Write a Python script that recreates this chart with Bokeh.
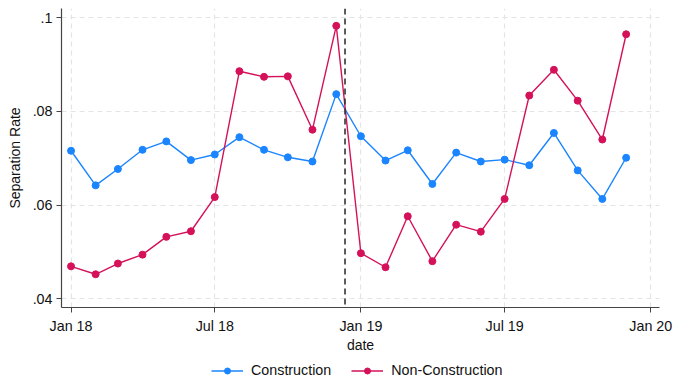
import datetime as dt
from bokeh.plotting import figure
from bokeh.layouts import column
from bokeh.models import (FixedTicker, Span, Legend, LegendItem, Range1d,
                          DatetimeTickFormatter, ColumnDataSource)
from bokeh.embed import file_html
from bokeh.resources import INLINE

months = ["2018-01", "2018-02", "2018-03", "2018-04", "2018-05", "2018-06",
          "2018-07", "2018-08", "2018-09", "2018-10", "2018-11", "2018-12",
          "2019-01", "2019-02", "2019-03", "2019-04", "2019-05", "2019-06",
          "2019-07", "2019-08", "2019-09", "2019-10", "2019-11", "2019-12"]
construction = [0.0716, 0.0642, 0.0677, 0.0718, 0.0736, 0.0696,
                0.0708, 0.0745, 0.0718, 0.0702, 0.0693, 0.0837,
                0.0747, 0.0695, 0.0717, 0.0645, 0.0712, 0.0693,
                0.0697, 0.0685, 0.0754, 0.0674, 0.0613, 0.0701]
non_construction = [0.0469, 0.0452, 0.0475, 0.0494, 0.0532, 0.0544,
                    0.0617, 0.0886, 0.0874, 0.0875, 0.0761, 0.0983,
                    0.0497, 0.0467, 0.0576, 0.0480, 0.0558, 0.0543,
                    0.0613, 0.0834, 0.0889, 0.0823, 0.0740, 0.0965]
series_names = ["Construction", "Non-Construction"]
x_tick_dates = ["2018-01-01", "2018-07-01", "2019-01-01", "2019-07-01", "2020-01-01"]
y_ticks = [0.04, 0.06, 0.08, 0.10]
y_tick_labels = [".04", ".06", ".08", ".1"]
event_date = "2018-12-12"

EPOCH = dt.datetime(1970, 1, 1)


def to_ms(s):
    d = dt.datetime.strptime(s, "%Y-%m-%d")
    return (d - EPOCH).total_seconds() * 1000.0


x = [to_ms(m + "-01") for m in months]
src = ColumnDataSource(dict(x=x, c=construction, n=non_construction))

BLUE = "#1a85ff"
RED = "#d41159"
FONT = "Liberation Sans"
FS = "14.3px"
W = 674
H_MAIN = 356
H_LEG = 22

p = figure(width=W, height=H_MAIN, x_axis_type="datetime",
           output_backend="svg", toolbar_location=None,
           x_range=Range1d(to_ms("2017-12-20"), to_ms("2020-01-12")),
           y_range=Range1d(0.0381, 0.102),
           min_border_left=61, min_border_right=15, min_border_top=8,
           min_border_bottom=49)
p.outline_line_color = None
p.background_fill_color = "white"
p.border_fill_color = "white"

p.line("x", "c", source=src, color=BLUE, line_width=1.4)
p.scatter("x", "c", source=src, color=BLUE, size=7)
p.line("x", "n", source=src, color=RED, line_width=1.4)
p.scatter("x", "n", source=src, color=RED, size=7)

vline = Span(location=to_ms(event_date), dimension="height",
             line_color="#333333", line_dash="6 4", line_width=1.6)
p.add_layout(vline)

p.xaxis.ticker = FixedTicker(ticks=[to_ms(d) for d in x_tick_dates])
p.xaxis.formatter = DatetimeTickFormatter(months="%b %y", years="%b %y",
                                          days="%b %y")
p.yaxis.ticker = FixedTicker(ticks=y_ticks)
p.yaxis.major_label_overrides = {t: l for t, l in zip(y_ticks, y_tick_labels)}
p.yaxis.major_label_orientation = "horizontal"
p.xaxis.axis_label = "date"
p.yaxis.axis_label = "Separation Rate"

for ax in (p.xaxis[0], p.yaxis[0]):
    ax.axis_line_color = "#444444"
    ax.axis_line_width = 1.2
    ax.major_tick_line_color = "#444444"
    ax.major_tick_out = 5
    ax.major_tick_in = 0
    ax.minor_tick_line_color = None
    ax.major_label_text_font = FONT
    ax.major_label_text_font_size = FS
    ax.major_label_text_color = "#111111"
    ax.axis_label_text_font = FONT
    ax.axis_label_text_font_size = "14px"
    ax.axis_label_text_font_style = "normal"
    ax.axis_label_text_color = "#111111"
p.xaxis.major_label_standoff = 5
p.yaxis.major_label_standoff = 4
p.xaxis.axis_label_standoff = 0
p.yaxis.axis_label_standoff = 7

for g in (p.xgrid[0], p.ygrid[0]):
    g.grid_line_color = "#e4e4e4"
    g.grid_line_dash = "5 4"
    g.grid_line_width = 1.2

# legend strip below the chart (its frame is aligned with the chart's frame)
lg = figure(width=W, height=H_LEG, output_backend="svg", toolbar_location=None,
            x_axis_location=None, y_axis_location=None,
            x_range=Range1d(0, 1), y_range=Range1d(0, 1),
            min_border_left=0, min_border_right=0, min_border_top=0,
            min_border_bottom=0)
lg.outline_line_color = None
lg.xgrid.visible = False
lg.ygrid.visible = False
offscreen = ColumnDataSource(dict(x=[-5], y=[-5]))
items = []
for name, col in zip(series_names, [BLUE, RED]):
    rl = lg.line("x", "y", source=offscreen, color=col, line_width=1.4)
    rs = lg.scatter("x", "y", source=offscreen, color=col, size=7)
    items.append(LegendItem(label=name, renderers=[rl, rs]))

legend = Legend(items=items, orientation="horizontal", location=(150, 0),
                label_text_font=FONT, label_text_font_size=FS,
                label_text_color="#111111", border_line_color=None,
                background_fill_alpha=0.0,
                glyph_width=32, glyph_height=15, label_height=15,
                label_standoff=8, spacing=20, padding=0, margin=0)
lg.add_layout(legend, "center")

layout = column(p, lg, spacing=0)
open("out.html", "w").write(file_html(layout, INLINE))
